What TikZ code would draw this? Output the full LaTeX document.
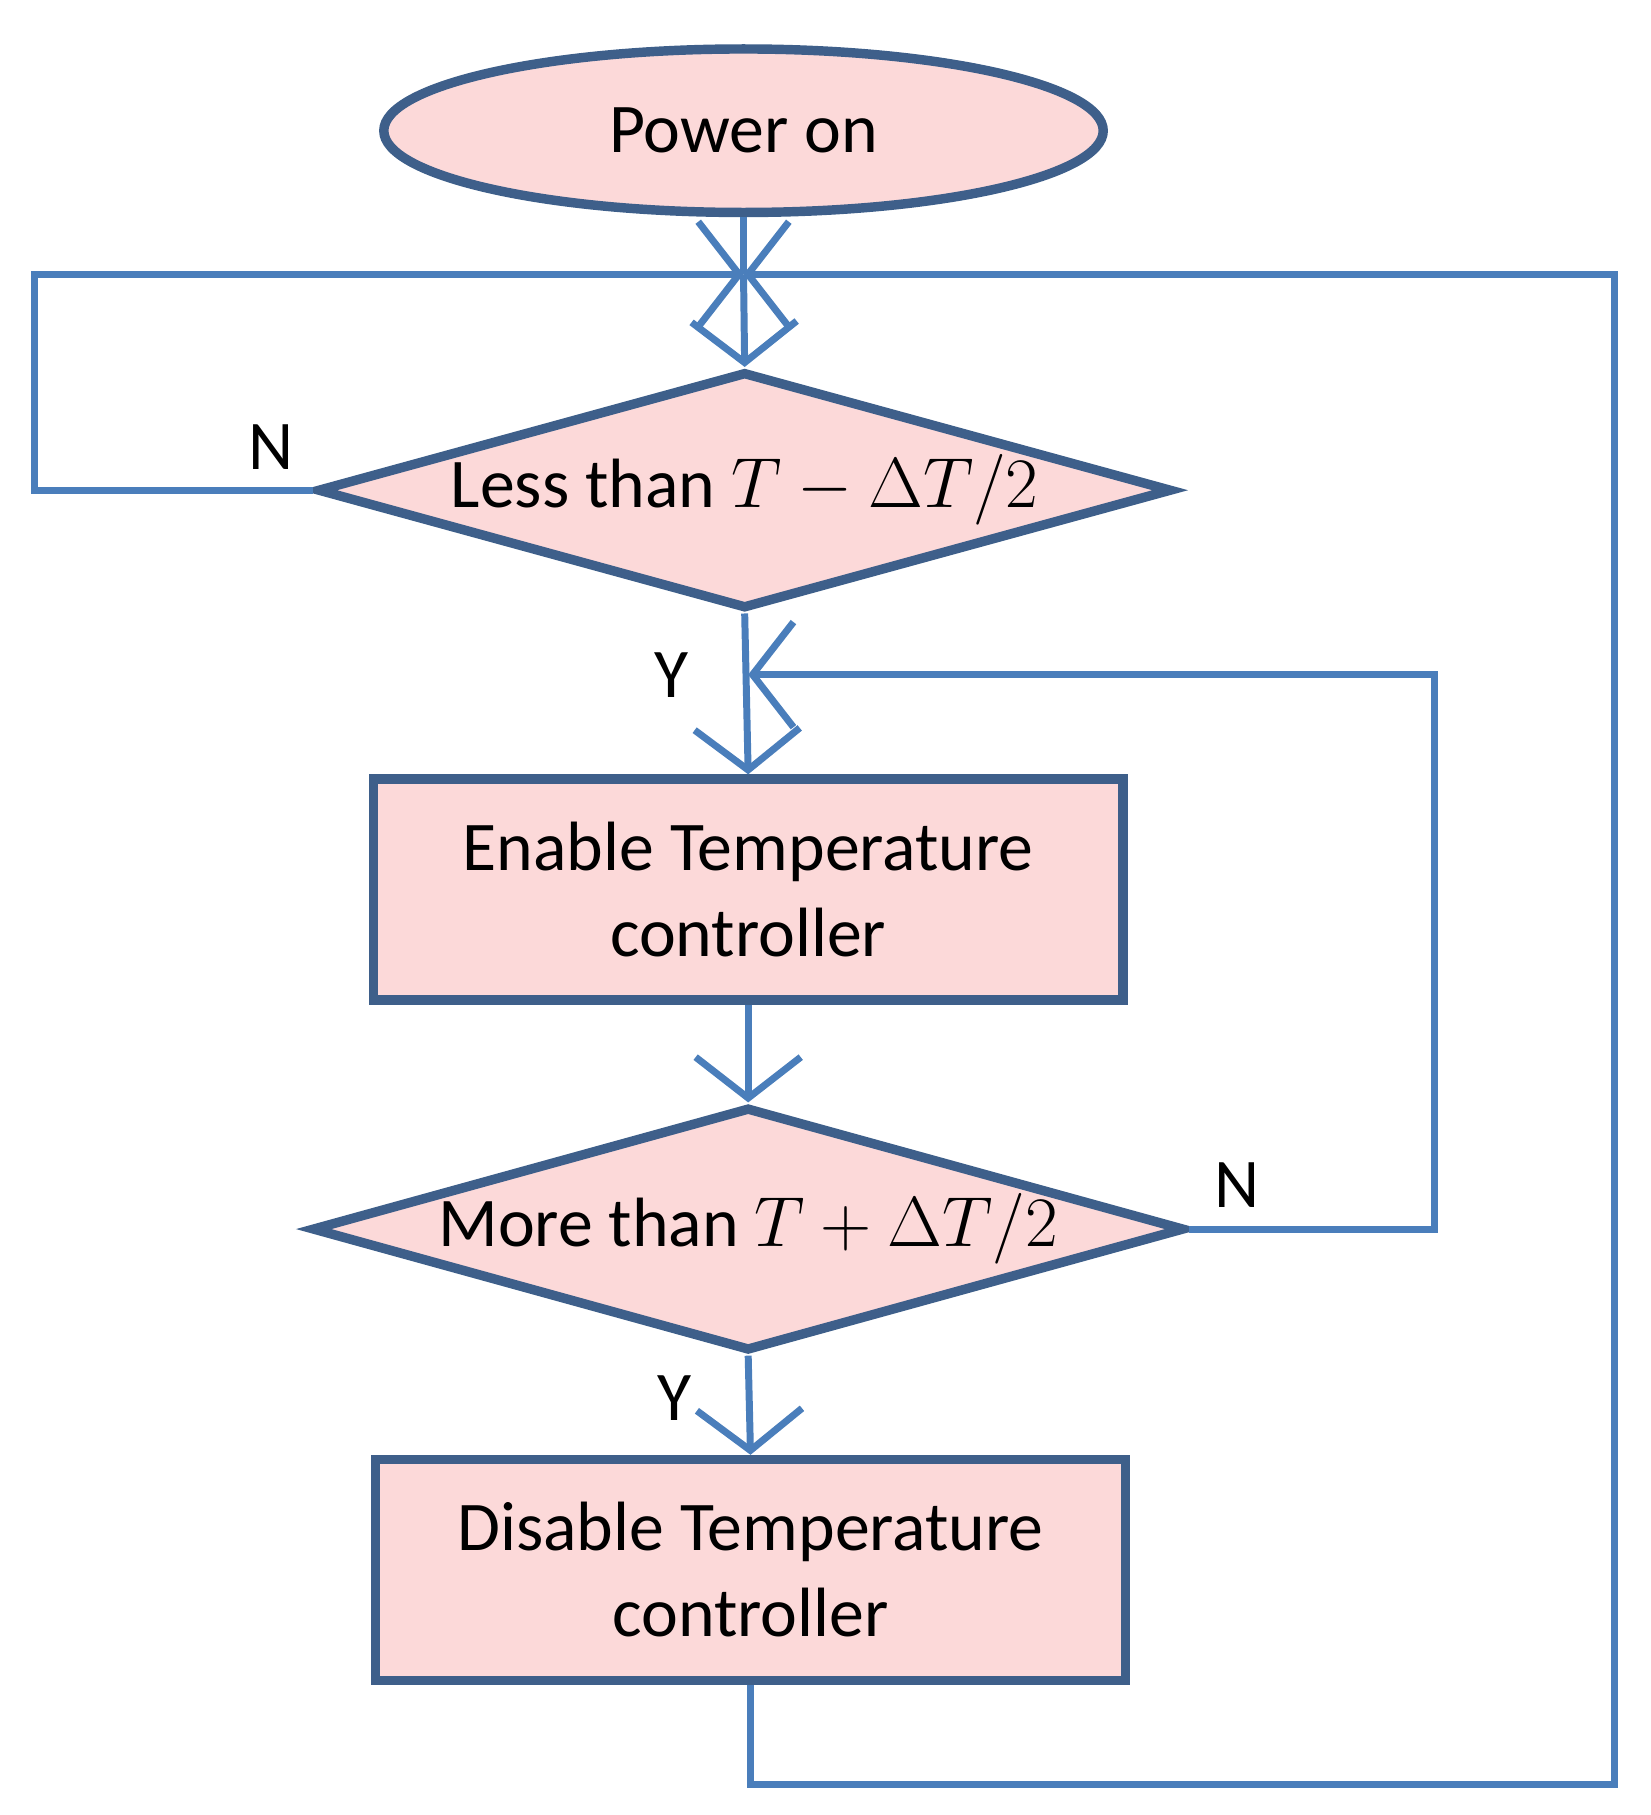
\documentclass[tikz,border=0pt]{standalone}
\usepackage{fontspec}
\setmainfont{Carlito}
\usetikzlibrary{shapes.geometric}
\usetikzlibrary{arrows.meta}
\usetikzlibrary{positioning}
\definecolor{boxfill}{HTML}{FCD9D9}
\definecolor{boxline}{HTML}{3E5F8A}
\definecolor{linkline}{HTML}{4A7EBB}
\begin{document}
\begin{tikzpicture}[x=0.01cm,y=-0.01cm,
  every node/.style={font=\fontsize{17}{21}\selectfont},
  block/.style={draw=boxline,fill=boxfill,line width=2.3pt,align=center,minimum width=6.42cm,minimum height=1.89cm},
  test/.style={diamond,draw=boxline,fill=boxfill,line width=2.3pt,aspect=3.58,inner sep=0pt,minimum width=7.32cm,minimum height=2.03cm},
  link/.style={draw=linkline,line width=1.7pt},
  arr/.style={link,-{Straight Barb[length=3.5mm,width=9mm,line width=1.7pt]}}]
  \useasboundingbox (0,0) rectangle (1414,1555);
  \node[ellipse,draw=boxline,fill=boxfill,line width=2.3pt,minimum width=6.16cm,minimum height=1.4cm] (on) at (637,112) {Power on};
  \coordinate (j) at (637,235);
  \node[test] (less) at (638,420) {Less than $T-\Delta T/2$};
  \node[block] (enable) at (641,762) {Enable Temperature\\controller};
  \node[test] (more) at (641,1053) {More than $T+\Delta T/2$};
  \node[block] (disable) at (643,1345) {Disable Temperature\\controller};
  \coordinate (k) at (641,578);
  % connectors
  \draw[link] (on.south) -- (j);
  \draw[arr] (j) -- (less.north);
  \draw[arr] (less.west) -- ++(-238,0) |- (j);
  \draw[arr] (disable.south) -- ++(0,85) -| (1383,235) -- (j);
  \draw[arr] (less.south) -- (enable.north);
  \draw[arr] (enable.south) -- (more.north);
  \draw[arr] (more.east) -- ++(210,0) |- (k);
  \draw[arr] (more.south) -- (disable.north);
  % labels
  \node at (232,383) {N};
  \node at (575,578) {Y};
  \node at (1060,1015) {N};
  \node at (578,1198) {Y};
\end{tikzpicture}
\end{document}
